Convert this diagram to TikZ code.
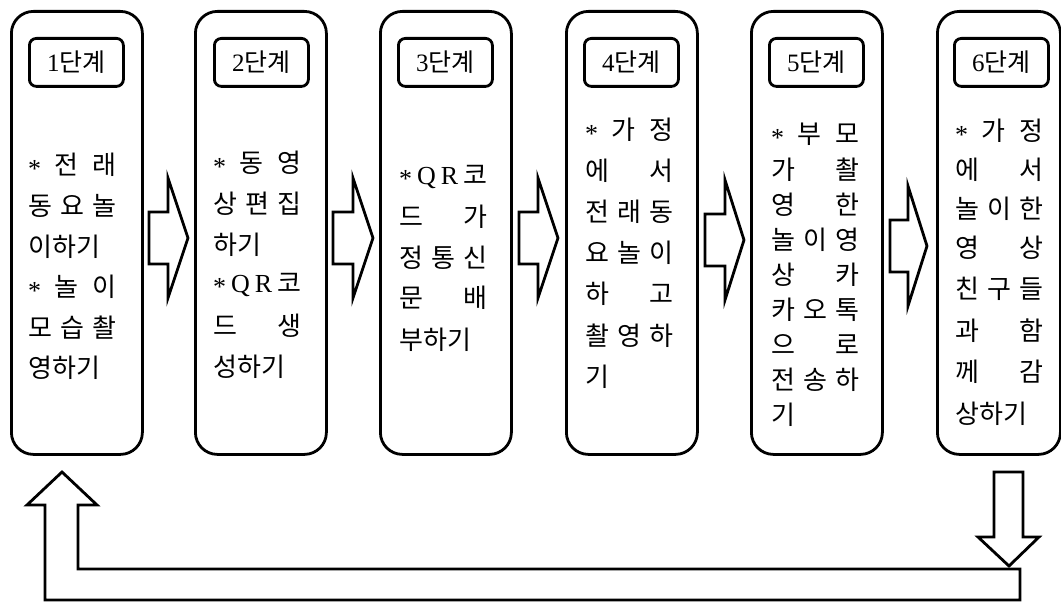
\documentclass[tikz,border=0pt]{standalone}
\usepackage{fontspec}
\setmainfont{Liberation Serif}
\newfontfamily\kr{Noto Sans CJK KR}
\newcommand\lat{\rmfamily}
\newcommand\st{{\lat\raisebox{-3pt}{*}}}
\newcommand\LQ{{\lat Q}}
\newcommand\LR{{\lat R}}
\tikzset{
  stagebox/.style={draw, line width=2.8pt, rounded corners=22pt, minimum height=443pt, anchor=north west, inner sep=0pt},
  lbl/.style={draw, line width=2.8pt, rounded corners=7pt, minimum width=94pt, minimum height=48pt, anchor=north west, inner sep=0pt, font=\kr\fontsize{25}{25}\selectfont},
  txt/.style={anchor=west, inner sep=0pt, font=\kr\fontsize{26}{26}\selectfont},
  blockarrow/.style={draw, line width=2.8pt, line join=miter, fill=white}
}
\newcommand\J[3]{\node[txt] at (#1,#2) {\makebox[88pt][s]{#3}};}
\newcommand\N[3]{\node[txt] at (#1,#2) {#3};}
\newcommand\rarr[4]{% stem left, head base, tip, center y
  \draw[blockarrow] (#1,{#4-26}) -- (#2,{#4-26}) -- (#2,{#4-60}) -- (#3,#4) -- (#2,{#4+60}) -- (#2,{#4+26}) -- (#1,{#4+26}) -- cycle;}
\begin{document}
\begin{tikzpicture}[x=1pt,y=-1pt]
\useasboundingbox (0,0) rectangle (1061,602);
% stage boxes
\node[stagebox, minimum width=131pt] (b1) at (10,10) {};
\node[stagebox, minimum width=131pt] (b2) at (194,10) {};
\node[stagebox, minimum width=131pt] (b3) at (379,10) {};
\node[stagebox, minimum width=131pt] (b4) at (565,10) {};
\node[stagebox, minimum width=131pt] (b5) at (750,10) {};
\node[stagebox, minimum width=123pt] (b6) at (936,10) {};
% labels
\node[lbl] (l1) at (28,37) {{\lat 1}단계};
\node[lbl] (l2) at (213,37) {{\lat 2}단계};
\node[lbl] (l3) at (397,37) {{\lat 3}단계};
\node[lbl] (l4) at (583,37) {{\lat 4}단계};
\node[lbl] (l5) at (768,37) {{\lat 5}단계};
\node[lbl] (l6) at (953,37) {{\lat 6}단계};
% box 1
\J{28}{165}{\st\hfill 전\hfill 래}
\J{28}{206}{동\hfill 요\hfill 놀}
\N{28}{247}{이하기}
\J{28}{287}{\st\hfill 놀\hfill 이}
\J{28}{328}{모\hfill 습\hfill 촬}
\N{28}{368}{영하기}
% box 2
\J{213}{163}{\st\hfill 동\hfill 영}
\J{213}{204}{상\hfill 편\hfill 집}
\N{213}{245}{하기}
\J{213}{285}{\st\hfill\LQ\hfill\LR\hfill 코}
\J{213}{326}{드\hfill 생}
\N{213}{367}{성하기}
% box 3
\J{399}{177}{\st\hfill\LQ\hfill\LR\hfill 코}
\J{399}{217}{드\hfill 가}
\J{399}{258}{정\hfill 통\hfill 신}
\J{399}{298}{문\hfill 배}
\N{399}{340}{부하기}
% box 4
\J{585}{130}{\st\hfill 가\hfill 정}
\J{585}{171}{에\hfill 서}
\J{585}{212}{전\hfill 래\hfill 동}
\J{585}{253}{요\hfill 놀\hfill 이}
\J{585}{294}{하\hfill 고}
\J{585}{336}{촬\hfill 영\hfill 하}
\N{585}{377}{기}
% box 5
\J{771}{135}{\st\hfill 부\hfill 모}
\J{771}{170}{가\hfill 촬}
\J{771}{205}{영\hfill 한}
\J{771}{240}{놀\hfill 이\hfill 영}
\J{771}{275}{상\hfill 카}
\J{771}{310}{카\hfill 오\hfill 톡}
\J{771}{345}{으\hfill 로}
\J{771}{380}{전\hfill 송\hfill 하}
\N{771}{415}{기}
% box 6
\J{955}{131}{\st\hfill 가\hfill 정}
\J{955}{170}{에\hfill 서}
\J{955}{209}{놀\hfill 이\hfill 한}
\J{955}{248}{영\hfill 상}
\J{955}{289}{친\hfill 구\hfill 들}
\J{955}{331}{과\hfill 함}
\J{955}{372}{께\hfill 감}
\N{955}{414}{상하기}
% right arrows between stages
\rarr{149}{168}{188}{238}
\rarr{333}{353}{373}{238}
\rarr{519}{538}{558}{238}
\rarr{705}{725}{744}{240}
\rarr{890}{908}{927}{246}
% return loop
\draw[blockarrow] (45,600) -- (45,505) -- (27,505) -- (62,472) -- (97,505) -- (78,505) -- (78,569) -- (1020,569) -- (1020,600) -- cycle;
\draw[blockarrow] (994,472) -- (1023,472) -- (1023,537) -- (1039,537) -- (1009,566) -- (978,537) -- (994,537) -- cycle;
\end{tikzpicture}
\end{document}
